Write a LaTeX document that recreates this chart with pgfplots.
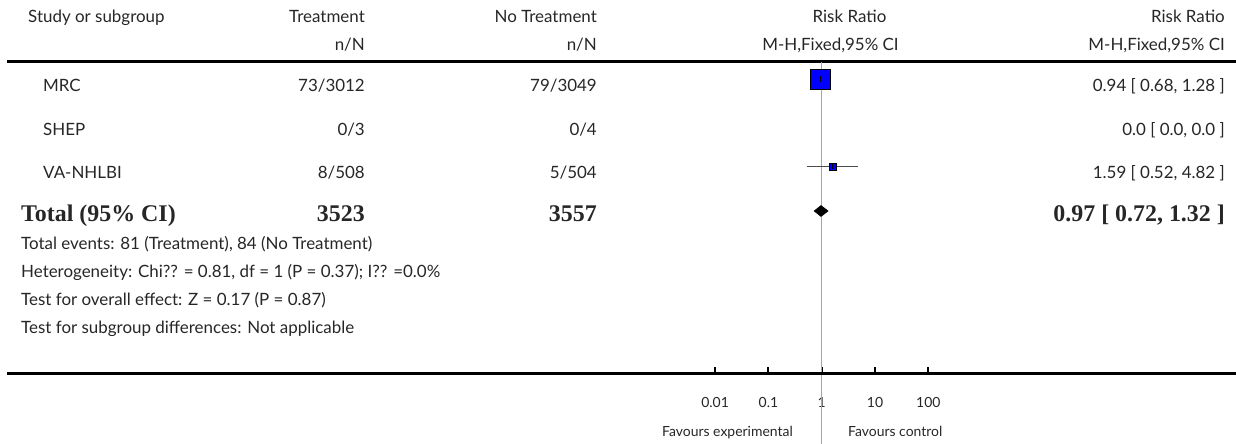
\documentclass[border=0pt]{standalone}
\usepackage{fontspec}
\setmainfont{Lato}
\newfontfamily\tnr{Liberation Serif}
\usepackage{pgfplots}
\pgfplotsset{compat=1.18}
\definecolor{txt}{HTML}{262626}
\definecolor{boxblue}{HTML}{0000FF}
\definecolor{vline}{HTML}{A6A6A6}
\definecolor{ci}{HTML}{4D4D4D}
\newcommand{\rfnt}{\fontsize{17}{20}\selectfont}
\newcommand{\smfnt}{\fontsize{14}{17}\selectfont}
\newcommand{\bfnt}{\fontsize{24}{28}\selectfont\tnr\bfseries}
\begin{document}
\begin{tikzpicture}[x=1bp,y=1bp]
\useasboundingbox (0,0) rectangle (1236,444);
\begin{scope}[every node/.style={inner sep=0pt, text=txt, font=\rfnt}]
% header
\node[anchor=base west] at (28,{444-22.3}) {Study or subgroup};
\node[anchor=base east] at (365,{444-22.3}) {Treatment};
\node[anchor=base east] at (597,{444-22.3}) {No Treatment};
\node[anchor=base] at (849.5,{444-22.3}) {Risk Ratio};
\node[anchor=base east] at (1225,{444-22.3}) {Risk Ratio};
\node[anchor=base east] at (365,{444-50.5}) {n/N};
\node[anchor=base east] at (597,{444-50.5}) {n/N};
\node[anchor=base] at (830.5,{444-50.5}) {M-H,Fixed,95\% CI};
\node[anchor=base east] at (1225,{444-50.5}) {M-H,Fixed,95\% CI};
% rows
\node[anchor=base west] at (43,{444-91.3}) {MRC};
\node[anchor=base east] at (365,{444-91.3}) {73/3012};
\node[anchor=base east] at (597,{444-91.3}) {79/3049};
\node[anchor=base east] at (1225,{444-91.3}) {0.94 [ 0.68, 1.28 ]};
\node[anchor=base west] at (43,{444-135.3}) {SHEP};
\node[anchor=base east] at (365,{444-135.3}) {0/3};
\node[anchor=base east] at (597,{444-135.3}) {0/4};
\node[anchor=base east] at (1225,{444-135.3}) {0.0 [ 0.0, 0.0 ]};
\node[anchor=base west] at (43,{444-178.3}) {VA-NHLBI};
\node[anchor=base east] at (365,{444-178.3}) {8/508};
\node[anchor=base east] at (597,{444-178.3}) {5/504};
\node[anchor=base east] at (1225,{444-178.3}) {1.59 [ 0.52, 4.82 ]};
% total
\node[anchor=base west,font=\bfnt] at (21,{444-221.5}) {Total (95\% CI)};
\node[anchor=base east,font=\bfnt] at (365,{444-221.5}) {3523};
\node[anchor=base east,font=\bfnt] at (597,{444-221.5}) {3557};
\node[anchor=base east,font=\bfnt] at (1225,{444-221.5}) {0.97 [ 0.72, 1.32 ]};
% footnotes
\node[anchor=base west] at (21,{444-250}) {Total events: 81 (Treatment), 84 (No Treatment)};
\node[anchor=base west] at (21,{444-278}) {Heterogeneity: Chi?? = 0.81, df = 1 (P = 0.37); I?? =0.0\%};
\node[anchor=base west] at (21,{444-306}) {Test for overall effect: Z = 0.17 (P = 0.87)};
\node[anchor=base west] at (21,{444-334}) {Test for subgroup differences: Not applicable};
% favours
\node[anchor=base east,font=\smfnt] at (793,{444-437}) {Favours experimental};
\node[anchor=base west,font=\smfnt] at (848,{444-437}) {Favours control};
\end{scope}
% top rule
\draw[line width=3bp] (7,{444-62}) -- (1236,{444-62});
\begin{axis}[
  at={(661.8bp,70bp)}, anchor=south west,
  width=319.8bp, height=374bp, scale only axis,
  xmode=log, log basis x=10, xmin=1e-3, xmax=1e3,
  ymin=0, ymax=374, y dir=reverse,
  clip=false,
  axis x line*=bottom, hide y axis,
  x axis line style={draw=none},
  xtick={0.01,0.1,1,10,100},
  xticklabels={0.01,0.1,1,10,100},
  /pgf/number format/assume math mode=true,
  tick align=inside,
  major tick length=6.5bp,
  tick style={black, line width=2bp},
  xticklabel style={anchor=base, yshift=-34bp, text=txt, font=\smfnt, inner sep=0pt},
  ytick=\empty,
]
\addplot [vline, line width=1.3bp, forget plot] coordinates {(1,62) (1,444)};
% MRC
\addplot [only marks, mark=square*, mark size=10bp, mark options={fill=boxblue, draw=none}] coordinates {(0.94,79)};
\addplot [ci, line width=1.6bp] coordinates {(0.68,79) (1.28,79)};
\addplot [only marks, mark=|, mark size=3bp, mark options={black, line width=1bp}] coordinates {(0.94,79)};
% VA-NHLBI
\addplot [only marks, mark=square*, mark size=3.5bp, mark options={fill=boxblue, draw=none}] coordinates {(1.59,166.5)};
\addplot [ci, line width=1.6bp] coordinates {(0.52,166.5) (4.82,166.5)};
\addplot [only marks, mark=|, mark size=3bp, mark options={black, line width=1bp}] coordinates {(1.59,166.5)};
% Total diamond
\addplot [fill=black, draw=black, line width=0.5bp] coordinates {(0.72,211) (0.97,205.5) (1.32,211) (0.97,216.5)} -- cycle;
\end{axis}
\draw[line width=3bp] (7,{444-374}) -- (1236,{444-374});
\end{tikzpicture}
\end{document}
